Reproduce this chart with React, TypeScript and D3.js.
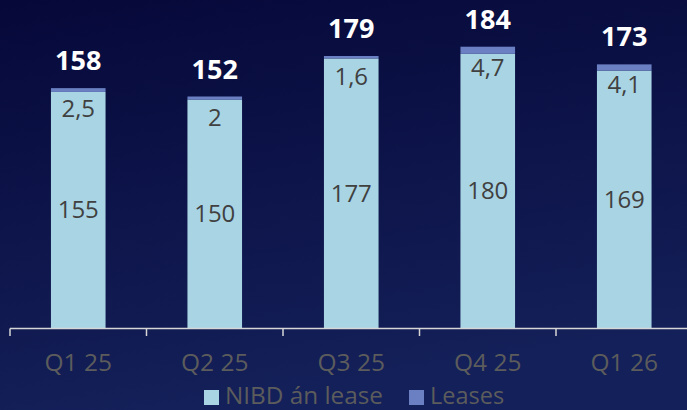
import React from "react";
import * as d3 from "d3";

const categories = ["Q1 25", "Q2 25", "Q3 25", "Q4 25", "Q1 26"];
const nibdValues = [155, 150, 177, 180, 169];
const leaseValues = [2.5, 2, 1.6, 4.7, 4.1];
const totalLabels = ["158", "152", "179", "184", "173"];
const nibdLabels = ["155", "150", "177", "180", "169"];
const leaseLabels = ["2,5", "2", "1,6", "4,7", "4,1"];
const seriesNames = ["NIBD án lease", "Leases"];

const W = 687;
const H = 410;
const FONT = "'Open Sans', 'Noto Sans', sans-serif";
const NIBD_COLOR = "#a9d4e4";
const LEASE_COLOR = "#6a80c2";

export default function App() {
  const x = d3
    .scaleBand<string>()
    .domain(categories)
    .range([10, 10 + 5 * 136.5])
    .paddingInner(0.6)
    .paddingOuter(0.3);
  const y = d3.scaleLinear().domain([0, 200]).range([328, 23.4]);
  const step = x.step();

  const stackData = categories.map((c, i) => ({
    cat: c,
    nibd: nibdValues[i],
    lease: leaseValues[i],
  }));
  const stack = d3.stack<any>().keys(["nibd", "lease"])(stackData);
  const colors = [NIBD_COLOR, LEASE_COLOR];

  const tickXs = d3.range(categories.length + 1).map((i) => 10 + i * step);

  return (
    <svg
      width={W}
      height={H}
      style={{ position: "absolute", left: 0, top: 0, display: "block" }}
      fontFamily={FONT}
    >
      <defs>
        <linearGradient id="bg" x1="0" y1="0" x2="0.25" y2="1">
          <stop offset="0" stopColor="#060839" />
          <stop offset="1" stopColor="#142059" />
        </linearGradient>
      </defs>
      <rect width={W} height={H} fill="url(#bg)" />

      {stack.map((layer, li) =>
        layer.map((d, i) => (
          <rect
            key={`${li}-${i}`}
            x={x(categories[i])!}
            width={x.bandwidth()}
            y={y(d[1])}
            height={y(d[0]) - y(d[1])}
            fill={colors[li]}
          />
        ))
      )}

      {/* axis */}
      <line x1={10} x2={W} y1={328.5} y2={328.5} stroke="#d6d6d6" strokeWidth={1.5} />
      {tickXs.map((tx, i) => (
        <line key={i} x1={tx} x2={tx} y1={328.5} y2={336} stroke="#d6d6d6" strokeWidth={1.5} />
      ))}
      {categories.map((c) => (
        <text
          key={c}
          x={x(c)! + x.bandwidth() / 2}
          y={371}
          textAnchor="middle"
          fontSize={24.5}
          fill="#5c5c5c"
        >
          {c}
        </text>
      ))}

      {/* segment labels */}
      {stackData.map((d, i) => {
        const cx = x(d.cat)! + x.bandwidth() / 2;
        const top = y(d.nibd + d.lease);
        return (
          <g key={d.cat}>
            <text
              x={cx}
              y={(y(0) + y(d.nibd)) / 2}
              dy="0.35em"
              textAnchor="middle"
              fontSize={24}
              fill="#404040"
            >
              {nibdLabels[i]}
            </text>
            <text x={cx} y={top + 29} textAnchor="middle" fontSize={24} fill="#404040">
              {leaseLabels[i]}
            </text>
            <text
              x={cx}
              y={top - 18}
              textAnchor="middle"
              fontSize={27}
              fontWeight="bold"
              fill="#ffffff"
            >
              {totalLabels[i]}
            </text>
          </g>
        );
      })}

      {/* legend */}
      <rect x={204} y={390} width={15} height={15} fill={NIBD_COLOR} />
      <text x={225} y={404} fontSize={24.3} fill="#5c5c5c">
        {seriesNames[0]}
      </text>
      <rect x={409} y={390} width={15} height={15} fill={LEASE_COLOR} />
      <text x={430} y={404} fontSize={23.5} fill="#5c5c5c">
        {seriesNames[1]}
      </text>
    </svg>
  );
}
